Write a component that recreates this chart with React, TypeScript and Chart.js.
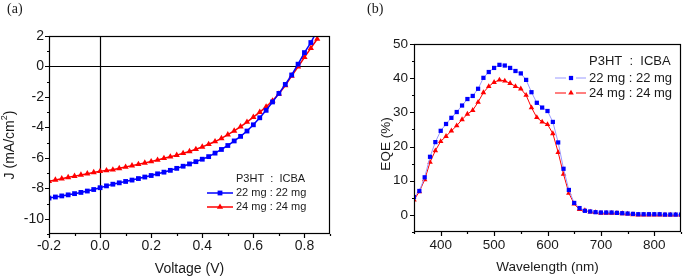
import React, { useEffect, useRef } from 'react';
import { Chart, registerables } from 'chart.js';

Chart.register(...registerables);

// ---------- Panel (a): J–V curves ----------
const voltage = [
  -0.2, -0.175, -0.15, -0.125, -0.1, -0.075, -0.05, -0.025, 0.0, 0.025, 0.05, 0.075,
  0.1, 0.125, 0.15, 0.175, 0.2, 0.225, 0.25, 0.275, 0.3, 0.325, 0.35, 0.375,
  0.4, 0.425, 0.45, 0.475, 0.5, 0.525, 0.55, 0.575, 0.6, 0.625, 0.65, 0.675,
  0.7, 0.725, 0.75, 0.775, 0.8, 0.825, 0.85,
];
const j22 = [
  -8.64, -8.57, -8.5, -8.43, -8.35, -8.27, -8.18, -8.08, -7.96, -7.84, -7.73, -7.64,
  -7.55, -7.46, -7.36, -7.26, -7.16, -7.05, -6.94, -6.82, -6.69, -6.55, -6.4, -6.25,
  -6.09, -5.92, -5.69, -5.45, -5.19, -4.89, -4.59, -4.24, -3.83, -3.37, -2.88, -2.33,
  -1.77, -1.18, -0.56, 0.15, 0.91, 1.57, 2.35,
];
const j24 = [
  -7.54, -7.45, -7.37, -7.28, -7.2, -7.12, -7.04, -6.96, -6.88, -6.83, -6.78, -6.69,
  -6.6, -6.51, -6.42, -6.33, -6.24, -6.14, -6.03, -5.93, -5.82, -5.7, -5.58, -5.44,
  -5.28, -5.11, -4.93, -4.72, -4.48, -4.23, -3.95, -3.65, -3.33, -3.0, -2.65, -2.25,
  -1.8, -1.25, -0.62, -0.02, 0.6, 1.2, 1.8,
];
const jvXTicks = [-0.2, 0.0, 0.2, 0.4, 0.6, 0.8];
const jvXMinor = [-0.1, 0.1, 0.3, 0.5, 0.7, 0.9];
const jvYTicks = [-10, -8, -6, -4, -2, 0, 2];
const jvYMinor = [-11, -9, -7, -5, -3, -1, 1];

// ---------- Panel (b): EQE ----------
const wavelength = [
  350, 360, 370, 380, 390, 400, 410, 420, 430, 440, 450, 460, 470, 480, 490, 500, 510,
  520, 530, 540, 550, 560, 570, 580, 590, 600, 610, 620, 630, 640, 650, 660, 670, 680,
  690, 700, 710, 720, 730, 740, 750, 760, 770, 780, 790, 800, 810, 820, 830, 840, 850,
];
const eqe22 = [
  5.2, 7.0, 11.0, 17.0, 21.3, 24.6, 26.6, 28.4, 30.1, 32.0, 33.9, 34.8, 36.9, 40.1, 41.8, 43.0, 43.9,
  43.7, 43.0, 42.1, 41.4, 39.5, 35.9, 32.8, 31.4, 30.4, 27.2, 21.2, 13.5, 7.3, 3.5, 2.0, 1.2, 1.0,
  0.8, 0.7, 0.7, 0.7, 0.6, 0.5, 0.4, 0.3, 0.2, 0.2, 0.2, 0.2, 0.2, 0.1, 0.1, 0.1, 0.1,
];
const eqe24 = [
  4.4, 6.8, 10.3, 15.4, 18.8, 21.5, 23.0, 24.6, 26.1, 27.9, 29.5, 30.6, 33.0, 35.8, 37.6, 38.8, 39.5,
  39.2, 38.5, 37.6, 36.9, 35.0, 31.4, 28.5, 27.2, 26.5, 23.8, 18.3, 11.9, 6.4, 3.2, 1.6, 1.3, 0.9,
  0.7, 0.5, 0.5, 0.5, 0.5, 0.4, 0.3, 0.1, 0.0, 0.0, 0.0, 0.0, 0.0, 0.0, 0.0, 0.0, 0.0,
];
const eqeXTicks = [400, 500, 600, 700, 800];
const eqeXMinor = [350, 450, 550, 650, 750, 850];
const eqeYTicks = [0, 10, 20, 30, 40, 50];
const eqeYMinor = [-5, 5, 15, 25, 35, 45];

const legendTitle = 'P3HT  :  ICBA';
const seriesLabels = ['22 mg : 22 mg', '24 mg : 24 mg'];

const SANS = '"Liberation Sans", Arial, sans-serif';
const SERIF = '"Liberation Serif", "Times New Roman", serif';

type PanelOpts = {
  panelLabel: string;
  panelLabelX: number;
  xTitle: string;
  xTitleY: number;
  yTitle: string;
  yTitleX: number;
  yTitleY: number;
  titleFont: number;
  xMajor: number[];
  xMinor: number[];
  yMajor: number[];
  yMinor: number[];
  zeroLines: boolean;
  legend: { titleX: number; titleY: number; rows: number[]; lineX0: number; lineX1: number; markerX: number; textX: number; font: number; gap: number };
};

function drawMarker(ctx: CanvasRenderingContext2D, style: string, x: number, y: number, r: number, color: string) {
  ctx.save();
  ctx.fillStyle = color;
  ctx.beginPath();
  if (style === 'rect') {
    const s = Math.SQRT1_2 * r;
    ctx.rect(x - s, y - s, 2 * s, 2 * s);
  } else {
    let a = 0;
    ctx.moveTo(x + Math.sin(a) * r, y - Math.cos(a) * r);
    a += (2 * Math.PI) / 3;
    ctx.lineTo(x + Math.sin(a) * r, y - Math.cos(a) * r);
    a += (2 * Math.PI) / 3;
    ctx.lineTo(x + Math.sin(a) * r, y - Math.cos(a) * r);
    ctx.closePath();
  }
  ctx.fill();
  ctx.restore();
}

function framePlugin(o: PanelOpts) {
  return {
    id: 'frame',
    beforeDatasetsDraw(chart: any) {
      if (!o.zeroLines) return;
      const { ctx, chartArea: a } = chart;
      const xs = chart.scales.x;
      const ys = chart.scales.y;
      ctx.save();
      ctx.strokeStyle = '#000';
      ctx.lineWidth = 1.2;
      const x0 = Math.round(xs.getPixelForValue(0)) + 0.5;
      const y0 = Math.round(ys.getPixelForValue(0)) + 0.5;
      ctx.beginPath();
      ctx.moveTo(x0, a.top);
      ctx.lineTo(x0, a.bottom);
      ctx.moveTo(a.left, y0);
      ctx.lineTo(a.right, y0);
      ctx.stroke();
      ctx.restore();
    },
    afterDatasetsDraw(chart: any) {
      const { ctx, chartArea: a } = chart;
      const xs = chart.scales.x;
      const ys = chart.scales.y;
      ctx.save();
      ctx.strokeStyle = '#000';
      ctx.lineWidth = 1.2;
      ctx.strokeRect(a.left + 0.5, a.top + 0.5, a.right - a.left - 1, a.bottom - a.top - 1);
      ctx.beginPath();
      const tick = (vals: number[], len: number, horiz: boolean) => {
        for (const v of vals) {
          if (horiz) {
            const px = Math.round(xs.getPixelForValue(v)) + 0.5;
            ctx.moveTo(px, a.bottom);
            ctx.lineTo(px, a.bottom + len);
          } else {
            const py = Math.round(ys.getPixelForValue(v)) + 0.5;
            ctx.moveTo(a.left, py);
            ctx.lineTo(a.left - len, py);
          }
        }
      };
      tick(o.xMajor, 4, true);
      tick(o.xMinor, 2, true);
      tick(o.yMajor, 4, false);
      tick(o.yMinor, 2, false);
      ctx.stroke();
      ctx.restore();
    },
    afterDraw(chart: any) {
      const { ctx, chartArea: a } = chart;
      ctx.save();
      ctx.fillStyle = '#1a1a1a';
      // panel label
      ctx.font = `14px ${SERIF}`;
      ctx.textAlign = 'left';
      ctx.textBaseline = 'middle';
      ctx.fillText(o.panelLabel, o.panelLabelX, 9);
      // x title
      ctx.font = `${o.titleFont}px ${SANS}`;
      ctx.textAlign = 'center';
      ctx.fillText(o.xTitle, (a.left + a.right) / 2, o.xTitleY);
      // y title (rotated)
      ctx.save();
      ctx.translate(o.yTitleX, o.yTitleY);
      ctx.rotate(-Math.PI / 2);
      if (o.yTitle.includes('²')) {
        const base = o.yTitle.split('²');
        ctx.textAlign = 'left';
        const w0 = ctx.measureText(base[0]).width;
        ctx.font = `${Math.round(o.titleFont * 0.65)}px ${SANS}`;
        const w1 = ctx.measureText('2').width;
        ctx.font = `${o.titleFont}px ${SANS}`;
        const w2 = ctx.measureText(base[1]).width;
        const start = -(w0 + w1 + w2) / 2;
        ctx.fillText(base[0], start, 0);
        ctx.font = `${Math.round(o.titleFont * 0.65)}px ${SANS}`;
        ctx.fillText('2', start + w0, -o.titleFont * 0.38);
        ctx.font = `${o.titleFont}px ${SANS}`;
        ctx.fillText(base[1], start + w0 + w1, 0);
      } else {
        ctx.textAlign = 'center';
        ctx.fillText(o.yTitle, 0, 0);
      }
      ctx.restore();
      // legend
      const L = o.legend;
      ctx.font = `${L.font}px ${SANS}`;
      ctx.textAlign = 'left';
      ctx.textBaseline = 'middle';
      ctx.fillText(legendTitle, L.textX, L.titleY);
      chart.data.datasets.forEach((ds: any, i: number) => {
        const y = L.rows[i];
        ctx.save();
        ctx.strokeStyle = ds.borderColor;
        ctx.lineWidth = ds.borderWidth;
        ctx.beginPath();
        if (L.gap > 0) {
          ctx.moveTo(L.lineX0, y);
          ctx.lineTo(L.markerX - L.gap, y);
          ctx.moveTo(L.markerX + L.gap, y);
          ctx.lineTo(L.lineX1, y);
        } else {
          ctx.moveTo(L.lineX0, y);
          ctx.lineTo(L.lineX1, y);
        }
        ctx.stroke();
        ctx.restore();
        drawMarker(ctx, ds.pointStyle, L.markerX, y, ds.pointRadius, ds.pointBackgroundColor);
        ctx.fillStyle = '#1a1a1a';
        ctx.fillText(seriesLabels[i], L.textX, y);
      });
      ctx.restore();
    },
  };
}

function JVChart() {
  const ref = useRef<HTMLCanvasElement>(null);
  useEffect(() => {
    const canvas = ref.current!;
    const opts: PanelOpts = {
      panelLabel: '(a)', panelLabelX: 7,
      xTitle: 'Voltage (V)', xTitleY: 269,
      yTitle: 'J (mA/cm²)', yTitleX: 10, yTitleY: 145,
      titleFont: 14,
      xMajor: jvXTicks, xMinor: jvXMinor, yMajor: jvYTicks, yMinor: jvYMinor,
      zeroLines: true,
      legend: { titleX: 236, titleY: 179, rows: [193, 207], lineX0: 207, lineX1: 233, markerX: 220, textX: 236, font: 11, gap: 0 },
    };
    const chart = new Chart(canvas, {
      type: 'line',
      data: {
        datasets: [
          {
            label: seriesLabels[0],
            data: voltage.map((v, i) => ({ x: v, y: j22[i] })),
            borderColor: '#0000ff', backgroundColor: '#0000ff',
            pointBackgroundColor: '#0000ff', pointStyle: 'rect',
            pointRadius: 3.4, pointBorderWidth: 0, borderWidth: 1.5, tension: 0,
          },
          {
            label: seriesLabels[1],
            data: voltage.map((v, i) => ({ x: v, y: j24[i] })),
            borderColor: '#ff0000', backgroundColor: '#ff0000',
            pointBackgroundColor: '#ff0000', pointStyle: 'triangle',
            pointRadius: 3.6, pointBorderWidth: 0, borderWidth: 1.5, tension: 0,
          },
        ] as any,
      },
      options: {
        animation: false, responsive: false, maintainAspectRatio: false,
        layout: { padding: { left: 0, right: 15, top: 36, bottom: 0 } },
        plugins: { legend: { display: false }, tooltip: { enabled: false } },
        scales: {
          x: {
            type: 'linear', min: -0.2, max: 0.9,
            grid: { display: false, drawTicks: false }, border: { display: false },
            ticks: { padding: 3.5, color: '#1a1a1a', font: { family: SANS, size: 14 }, maxRotation: 0, callback: (v: any) => Number(v).toFixed(1) },
            afterBuildTicks: (s: any) => { s.ticks = jvXTicks.map((v) => ({ value: v })); },
            afterFit: (s: any) => { s.height = 43; },
          },
          y: {
            type: 'linear', min: -11, max: 2,
            grid: { display: false, drawTicks: false }, border: { display: false },
            ticks: { padding: 5, color: '#1a1a1a', font: { family: SANS, size: 14 }, callback: (v: any) => String(v) },
            afterBuildTicks: (s: any) => { s.ticks = jvYTicks.map((v) => ({ value: v })); },
            afterFit: (s: any) => { s.width = 49; },
          },
        },
      } as any,
      plugins: [framePlugin(opts)],
    });
    return () => chart.destroy();
  }, []);
  return <canvas ref={ref} width={345} height={277} style={{ position: 'absolute', left: 0, top: 0, width: 345, height: 277 }} />;
}

function EQEChart() {
  const ref = useRef<HTMLCanvasElement>(null);
  useEffect(() => {
    const canvas = ref.current!;
    const opts: PanelOpts = {
      panelLabel: '(b)', panelLabelX: 22,
      xTitle: 'Wavelength (nm)', xTitleY: 267,
      yTitle: 'EQE (%)', yTitleX: 41, yTitleY: 144,
      titleFont: 13.5,
      xMajor: eqeXTicks, xMinor: eqeXMinor, yMajor: eqeYTicks, yMinor: eqeYMinor,
      zeroLines: false,
      legend: { titleX: 244, titleY: 61, rows: [78, 93], lineX0: 210, lineX1: 241, markerX: 226, textX: 244, font: 13, gap: 5 },
    };
    const chart = new Chart(canvas, {
      type: 'line',
      data: {
        datasets: [
          {
            label: seriesLabels[0],
            data: wavelength.map((w, i) => ({ x: w, y: eqe22[i] })),
            borderColor: '#9a9aff', backgroundColor: '#0000ff',
            pointBackgroundColor: '#0000ff', pointStyle: 'rect',
            pointRadius: 3.0, pointBorderWidth: 0, borderWidth: 1, tension: 0,
          },
          {
            label: seriesLabels[1],
            data: wavelength.map((w, i) => ({ x: w, y: eqe24[i] })),
            borderColor: '#ff0000', backgroundColor: '#ff0000',
            pointBackgroundColor: '#ff0000', pointStyle: 'triangle',
            pointRadius: 3.2, pointBorderWidth: 0, borderWidth: 1, tension: 0,
          },
        ] as any,
      },
      options: {
        animation: false, responsive: false, maintainAspectRatio: false,
        layout: { padding: { left: 0, right: 2, top: 44, bottom: 0 } },
        plugins: { legend: { display: false }, tooltip: { enabled: false } },
        scales: {
          x: {
            type: 'linear', min: 350, max: 850,
            grid: { display: false, drawTicks: false }, border: { display: false },
            ticks: { padding: 4.9, color: '#1a1a1a', font: { family: SANS, size: 13.5 }, maxRotation: 0, callback: (v: any) => String(v) },
            afterBuildTicks: (s: any) => { s.ticks = eqeXTicks.map((v) => ({ value: v })); },
            afterFit: (s: any) => { s.height = 45; },
          },
          y: {
            type: 'linear', min: -5, max: 50,
            grid: { display: false, drawTicks: false }, border: { display: false },
            ticks: { padding: 6, color: '#1a1a1a', font: { family: SANS, size: 13.5 }, callback: (v: any) => String(v) },
            afterBuildTicks: (s: any) => { s.ticks = eqeYTicks.map((v) => ({ value: v })); },
            afterFit: (s: any) => { s.width = 69; },
          },
        },
      } as any,
      plugins: [framePlugin(opts)],
    });
    return () => chart.destroy();
  }, []);
  return <canvas ref={ref} width={340} height={277} style={{ position: 'absolute', left: 345, top: 0, width: 340, height: 277 }} />;
}

export default function App() {
  return (
    <div style={{ position: 'fixed', left: 0, top: 0, width: 685, height: 277, background: '#fff', overflow: 'hidden' }}>
      <JVChart />
      <EQEChart />
    </div>
  );
}
